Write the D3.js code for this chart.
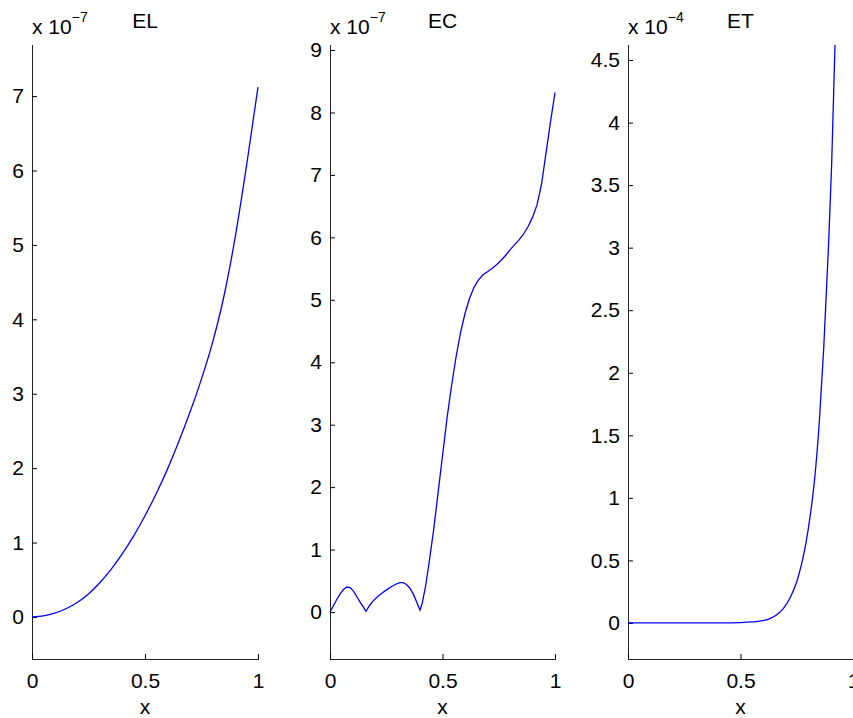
<!DOCTYPE html>
<html>
<head>
<meta charset="utf-8">
<script src="https://cdn.jsdelivr.net/npm/d3@7"></script>
<style>
  html, body { margin: 0; padding: 0; background: #fff; overflow: hidden; }
  svg { display: block; }
  text { font-family: "Liberation Sans", Arial, Helvetica, sans-serif; fill: #000; }
</style>
</head>
<body>
<svg id="chart" width="853" height="718"></svg>
<script>
// ---- data ----
const titles = ["EL", "EC", "ET"];
const exponents = ["\u22127", "\u22127", "\u22124"];
const xLabel = "x";
const xTicks = [0, 0.5, 1];

const elX = [0, 0.05, 0.1, 0.15, 0.2, 0.25, 0.3, 0.35, 0.4, 0.45, 0.5, 0.55, 0.6, 0.65, 0.7, 0.75, 0.8, 0.85, 0.9, 0.95, 1.0];
const elY = [0, 0.015, 0.05, 0.11, 0.195, 0.31, 0.46, 0.64, 0.85, 1.09, 1.36, 1.66, 1.99, 2.36, 2.76, 3.2, 3.7, 4.32, 5.12, 6.08, 7.12];

const ecX = [0, 0.015, 0.03, 0.045, 0.06, 0.075, 0.09, 0.105, 0.12, 0.135, 0.15, 0.16, 0.175, 0.19, 0.21, 0.23, 0.25, 0.27, 0.29, 0.31, 0.325, 0.34, 0.355, 0.37, 0.385, 0.40, 0.41, 0.425, 0.44, 0.46, 0.48, 0.50, 0.52, 0.54, 0.56, 0.58, 0.60, 0.62, 0.64, 0.66, 0.68, 0.70, 0.72, 0.74, 0.76, 0.78, 0.80, 0.82, 0.84, 0.86, 0.88, 0.90, 0.92, 0.94, 0.96, 0.98, 1.0];
const ecY = [0, 0.1, 0.2, 0.29, 0.36, 0.40, 0.39, 0.33, 0.24, 0.15, 0.07, 0.01, 0.1, 0.17, 0.24, 0.30, 0.35, 0.40, 0.44, 0.47, 0.47, 0.44, 0.38, 0.29, 0.16, 0.03, 0.14, 0.42, 0.78, 1.3, 1.9, 2.5, 3.1, 3.62, 4.08, 4.47, 4.78, 5.02, 5.2, 5.32, 5.4, 5.45, 5.5, 5.56, 5.63, 5.71, 5.8, 5.88, 5.96, 6.05, 6.17, 6.32, 6.52, 6.85, 7.35, 7.85, 8.32];

const etX = [0, 0.1, 0.2, 0.3, 0.4, 0.45, 0.5, 0.55, 0.6, 0.63, 0.66, 0.69, 0.72, 0.75, 0.77, 0.79, 0.81, 0.83, 0.85, 0.87, 0.89, 0.905, 0.92];
const etY = [0, 0, 0, 0, 0, 0.001, 0.003, 0.008, 0.018, 0.035, 0.064, 0.115, 0.2, 0.33, 0.46, 0.63, 0.86, 1.16, 1.6, 2.2, 2.97, 3.66, 4.62];

const yTicksEL = [0, 1, 2, 3, 4, 5, 6, 7];
const yTicksEC = [0, 1, 2, 3, 4, 5, 6, 7, 8, 9];
const yTicksET = [0, 0.5, 1, 1.5, 2, 2.5, 3, 3.5, 4, 4.5];

const yDomainEL = [-0.565, 7.70];
const yDomainEC = [-0.753, 9.097];
const yDomainET = [-0.288, 4.628];

// ---- layout ----
const panels = [
  { title: titles[0], exp: exponents[0], xs: elX, ys: elY, yTicks: yTicksEL, yDom: yDomainEL, left: 32, right: 258, curve: d3.curveMonotoneX },
  { title: titles[1], exp: exponents[1], xs: ecX, ys: ecY, yTicks: yTicksEC, yDom: yDomainEC, left: 330, right: 555, curve: d3.curveLinear },
  { title: titles[2], exp: exponents[2], xs: etX, ys: etY, yTicks: yTicksET, yDom: yDomainET, left: 628, right: 853, curve: d3.curveMonotoneX }
];
const plotTop = 44, plotBottom = 659;
const fs = 21;

const svg = d3.select("#chart");

panels.forEach((p, i) => {
  const x = d3.scaleLinear().domain([0, 1]).range([p.left, p.right]);
  const y = d3.scaleLinear().domain(p.yDom).range([plotBottom, plotTop]);

  const fmt = d => String(d);

  const gy = svg.append("g").attr("transform", `translate(${p.left},0)`)
    .call(d3.axisLeft(y).tickValues(p.yTicks).tickFormat(fmt).tickSizeInner(-5).tickSizeOuter(0).tickPadding(8));
  const gx = svg.append("g").attr("transform", `translate(0,${plotBottom})`)
    .call(d3.axisBottom(x).tickValues(xTicks).tickFormat(fmt).tickSizeInner(-5).tickSizeOuter(0).tickPadding(14));

  [gy, gx].forEach(g => {
    g.selectAll(".domain").attr("stroke", "#222").attr("stroke-width", 1.2).attr("shape-rendering", "crispEdges");
    g.selectAll(".tick line").attr("stroke", "#000").attr("stroke-width", 1);
    g.selectAll(".tick text").attr("font-size", fs).attr("font-family", '"Liberation Sans", Arial, sans-serif').attr("fill", "#000");
  });

  const pts = p.xs.map((v, k) => [v, p.ys[k]]);
  svg.append("path")
    .datum(pts)
    .attr("fill", "none")
    .attr("stroke", "#0000ff")
    .attr("stroke-width", 1.3)
    .attr("d", d3.line().x(d => x(d[0])).y(d => y(d[1])).curve(p.curve));

  svg.append("text")
    .attr("x", (p.left + p.right) / 2)
    .attr("y", 28)
    .attr("text-anchor", "middle")
    .attr("font-size", fs)
    .text(p.title);

  const t = svg.append("text")
    .attr("x", p.left)
    .attr("y", 34)
    .attr("font-size", 21);
  t.append("tspan").text("x 10");
  t.append("tspan").attr("dy", -12).attr("font-size", 14).text(p.exp);

  svg.append("text")
    .attr("x", (p.left + p.right) / 2)
    .attr("y", 714)
    .attr("text-anchor", "middle")
    .attr("font-size", fs)
    .text(xLabel);
});
</script>
</body>
</html>
